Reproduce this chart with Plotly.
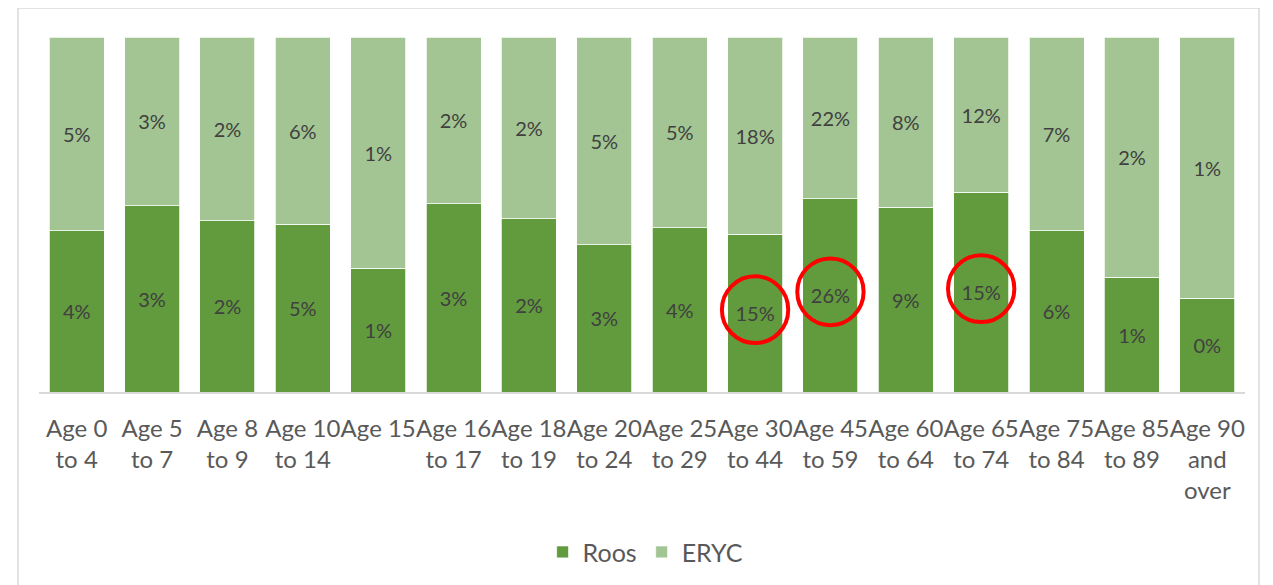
import plotly.graph_objects as go

categories = ["Age 0<br>to 4", "Age 5<br>to 7", "Age 8<br>to 9", "Age 10<br>to 14", "Age 15",
              "Age 16<br>to 17", "Age 18<br>to 19", "Age 20<br>to 24", "Age 25<br>to 29",
              "Age 30<br>to 44", "Age 45<br>to 59", "Age 60<br>to 64", "Age 65<br>to 74",
              "Age 75<br>to 84", "Age 85<br>to 89", "Age 90<br>and<br>over"]
roos = [4.4, 3.2, 2.1, 5.3, 0.75, 2.6, 2.0, 3.4, 4.3, 14.6, 26.2, 8.9, 15.4, 6.0, 1.0, 0.45]
eryc = [5.3, 2.9, 2.25, 5.9, 1.4, 2.3, 2.1, 4.8, 5.0, 18.3, 21.9, 8.2, 12.0, 7.2, 2.1, 1.25]
highlighted = [9, 10, 12]

DARK = "#629A3E"
LIGHT = "#A3C593"
FONT = "Lato"

x_idx = list(range(len(categories)))

fig = go.Figure()
fig.add_trace(go.Bar(
    x=x_idx, y=roos, name="Roos", marker=dict(color=DARK, line=dict(color="white", width=0.75)),
    text=[f"{round(v)}%" for v in roos], textposition="inside", insidetextanchor="middle",
    textangle=0, constraintext="none",
    textfont=dict(family=FONT, size=20, color="#404040")))
fig.add_trace(go.Bar(
    x=x_idx, y=eryc, name="ERYC", marker=dict(color=LIGHT, line=dict(color="white", width=0.75)),
    text=[f"{round(v)}%" for v in eryc], textposition="inside", insidetextanchor="middle",
    textangle=0, constraintext="none",
    textfont=dict(family=FONT, size=20, color="#404040")))

shapes = []
for i in highlighted:
    share = roos[i] / (roos[i] + eryc[i]) * 100
    yc = share / 2 + 1.0
    shapes.append(dict(type="circle", xref="x", yref="y",
                       x0=i - 0.44, x1=i + 0.44, y0=yc - 9.4, y1=yc + 9.4,
                       line=dict(color="#FF0000", width=4)))
# chart border
shapes.append(dict(type="rect", xref="paper", yref="paper", x0=-0.0174, x1=1.0116,
                   y0=-0.7, y1=1.0815, line=dict(color="#D9D9D9", width=1.5), layer="below"))

fig.update_layout(
    barmode="stack", barnorm="percent", bargap=0.27,
    width=1257, height=577,
    margin=dict(l=31, r=20, t=29, b=192),
    paper_bgcolor="white", plot_bgcolor="white",
    font=dict(family=FONT, color="#595959"),
    showlegend=True,
    legend=dict(orientation="h", x=0.503, xanchor="center", y=-0.447, yanchor="middle",
                font=dict(family=FONT, size=25, color="#595959"), traceorder="normal"),
    shapes=shapes,
    xaxis=dict(tickmode="array", tickvals=x_idx, ticktext=categories, tickangle=0,
               range=[-0.5, len(categories) - 0.5],
               showline=True, linecolor="#D9D9D9", linewidth=1.5, ticks="",
               ticklabelstandoff=14,
               tickfont=dict(family=FONT, size=24, color="#595959"), showgrid=False),
    yaxis=dict(range=[0, 100], visible=False, showgrid=False),
)

fig.write_html("out.html")
